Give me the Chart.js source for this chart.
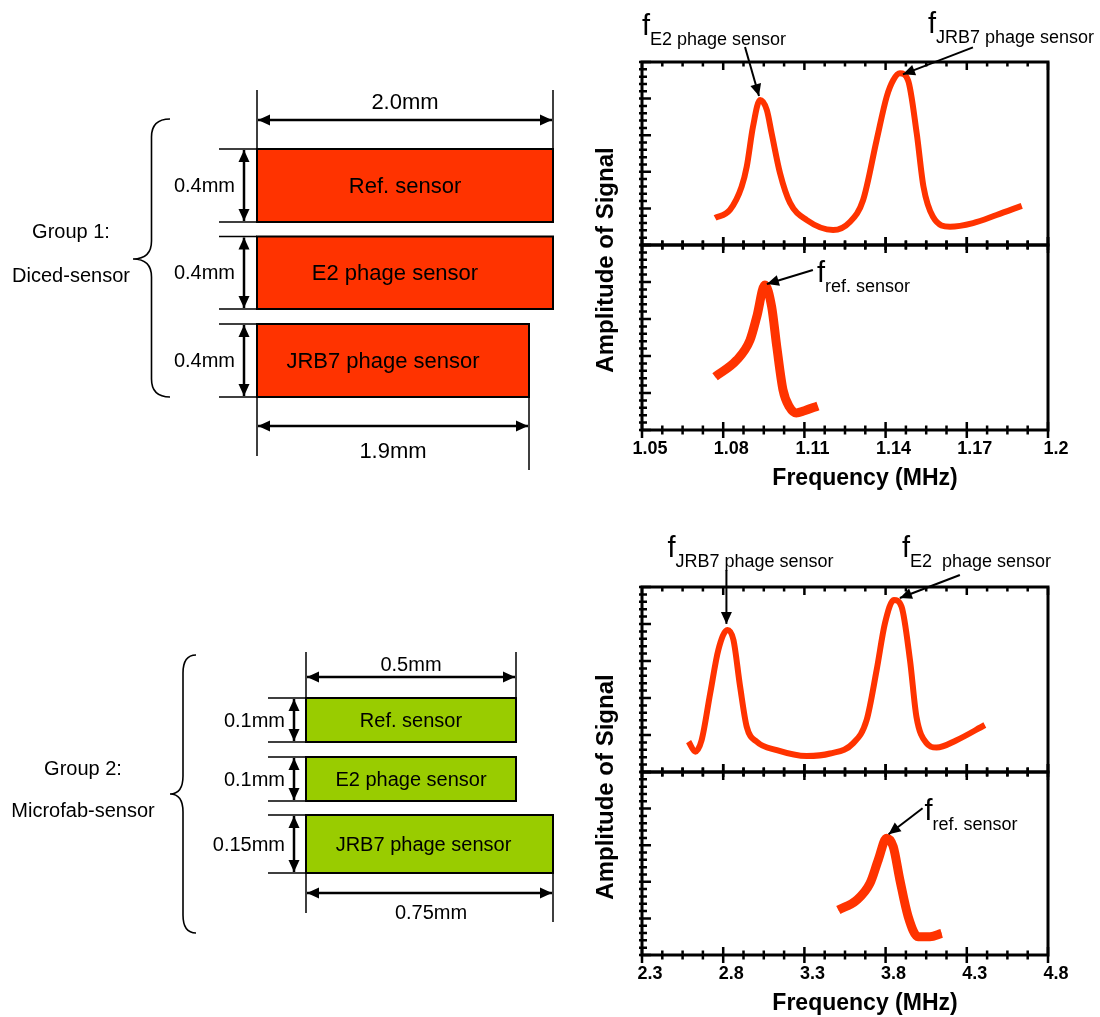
<!DOCTYPE html>
<html>
<head>
<meta charset="utf-8">
<script src="https://cdn.jsdelivr.net/npm/chart.js@4.4.1/dist/chart.umd.min.js"></script>
<style>
    body { margin: 0; background: #fff; }
    #wrap { position: relative; width: 1100px; height: 1017px; overflow: hidden; }
    canvas { position: absolute; }
</style>
</head>
<body>
<div id="wrap">
    <canvas id="diagram" width="590" height="1017" style="left:0;top:0"></canvas>
    <canvas id="dicedUpper" width="510" height="250" style="left:590px;top:0"></canvas>
    <canvas id="dicedLower" width="510" height="500" style="left:590px;top:0"></canvas>
    <canvas id="microUpper" width="510" height="277" style="left:590px;top:500px"></canvas>
    <canvas id="microLower" width="510" height="517" style="left:590px;top:500px"></canvas>
</div>
<script>
const FONT = "'Liberation Sans', Arial, sans-serif";
const RED = '#ff3300';

// Group 1 (diced sensors): E2 + JRB7 response, then reference sensor
const dicedFreq = [1.077, 1.0825, 1.0868, 1.0887, 1.091, 1.0936, 1.0961, 1.0979, 1.101, 1.1047, 1.1109, 1.1206, 1.1268, 1.1317, 1.1367, 1.1404, 1.1428, 1.1453, 1.1483, 1.1515, 1.154, 1.1575, 1.1638, 1.1723, 1.181, 1.1903];
const dicedAmp = [0.74, 0.96, 1.59, 2.14, 3.23, 3.96, 3.69, 3.05, 1.96, 1.15, 0.68, 0.41, 0.63, 1.23, 2.87, 4.05, 4.5, 4.69, 4.5, 3.05, 1.59, 0.77, 0.5, 0.6, 0.82, 1.07];
const dicedRefFreq = [1.077, 1.085, 1.0899, 1.0924, 1.0954, 1.0979, 1.0998, 1.1021, 1.1045, 1.107, 1.11, 1.115];
const dicedRefAmp = [1.44, 1.89, 2.43, 3.06, 3.92, 3.33, 2.25, 1.08, 0.62, 0.46, 0.52, 0.65];
const dicedTicks = [1.05, 1.08, 1.11, 1.14, 1.17, 1.2];
const dicedPeakNames = ['E2 phage sensor', 'JRB7 phage sensor'];

// Group 2 (microfab sensors)
const microFreq = [2.587, 2.628, 2.667, 2.72, 2.77, 2.826, 2.863, 2.904, 2.945, 3.006, 3.13, 3.314, 3.458, 3.601, 3.683, 3.745, 3.796, 3.851, 3.898, 3.95, 3.99, 4.052, 4.114, 4.237, 4.411];
const microAmp = [0.82, 0.55, 0.86, 2.13, 3.3, 3.84, 3.57, 2.31, 1.22, 0.82, 0.59, 0.43, 0.5, 0.78, 1.4, 2.76, 4.02, 4.65, 4.47, 3.03, 1.49, 0.78, 0.66, 0.86, 1.27];
const microRefFreq = [3.509, 3.622, 3.704, 3.755, 3.806, 3.847, 3.888, 3.939, 4.0, 4.073, 4.145];
const microRefAmp = [1.23, 1.5, 1.96, 2.6, 3.19, 2.96, 2.05, 1.05, 0.5, 0.5, 0.59];
const microTicks = [2.3, 2.8, 3.3, 3.8, 4.3, 4.8];
const microPeakNames = ['JRB7 phage sensor', 'E2  phage sensor'];

const refName = 'ref. sensor';
const ampTicks = [0, 1, 2, 3, 4, 5];

// sensor sketches on the left
const sensorNames = ['Ref. sensor', 'E2 phage sensor', 'JRB7 phage sensor'];
const group1Thick = ['0.4mm', '0.4mm', '0.4mm'];
const group1Widths = ['2.0mm', '1.9mm'];
const group1Title = ['Group 1:', 'Diced-sensor'];
const group2Thick = ['0.1mm', '0.1mm', '0.15mm'];
const group2Widths = ['0.5mm', '0.75mm'];
const group2Title = ['Group 2:', 'Microfab-sensor'];

function arrowHead(ctx, x1, y1, x2, y2, len, half) {
    const a = Math.atan2(y2 - y1, x2 - x1);
    ctx.beginPath();
    ctx.moveTo(x2, y2);
    ctx.lineTo(x2 - len * Math.cos(a) + half * Math.sin(a), y2 - len * Math.sin(a) - half * Math.cos(a));
    ctx.lineTo(x2 - len * Math.cos(a) - half * Math.sin(a), y2 - len * Math.sin(a) + half * Math.cos(a));
    ctx.closePath();
    ctx.fill();
}

function arrow(ctx, x1, y1, x2, y2, both) {
    ctx.beginPath();
    ctx.moveTo(x1, y1);
    ctx.lineTo(x2, y2);
    ctx.stroke();
    arrowHead(ctx, x1, y1, x2, y2, 12, 5.5);
    if (both) arrowHead(ctx, x2, y2, x1, y1, 12, 5.5);
}

function localMaxima(arr) {
    const out = [];
    for (let i = 1; i < arr.length - 1; i++) {
        if (arr[i] > arr[i - 1] && arr[i] > arr[i + 1]) out.push(i);
    }
    return out;
}

// one sub-plot (upper or lower half of a panel)
function makePlot(id, cfg) {
    const series = cfg.freq.map((f, i) => ({ x: f, y: cfg.amp[i] }));
    const datasets = [{
        data: series,
        showLine: true,
        borderColor: RED,
        borderWidth: cfg.ref ? 9 : 6,
        pointRadius: 0,
        cubicInterpolationMode: 'monotone',
        borderJoinStyle: 'round'
    }];
    if (cfg.ref) {
        // marker texture along the reference trace
        datasets.push({
            data: series,
            showLine: true,
            borderColor: 'rgba(150, 0, 0, 0.45)',
            borderWidth: 3,
            borderDash: [2, 2],
            pointRadius: 0,
            cubicInterpolationMode: 'monotone'
        });
    }

    const frame = {
        id: 'frame',
        afterDraw(chart) {
            const { ctx, chartArea: a, scales: { x, y } } = chart;
            ctx.save();
            ctx.strokeStyle = '#000';
            ctx.fillStyle = '#000';
            ctx.lineWidth = 2.5;
            ctx.beginPath();
            cfg.ticks.forEach((v, i) => {
                const marks = [{ v: v, len: 8 }];
                if (i < cfg.ticks.length - 1) {
                    const step = (cfg.ticks[i + 1] - v) / 4;
                    for (let k = 1; k < 4; k++) marks.push({ v: v + k * step, len: 4.5 });
                }
                marks.forEach(m => {
                    const px = x.getPixelForValue(m.v);
                    ctx.moveTo(px, a.top - (cfg.topInside ? 0 : m.len));
                    ctx.lineTo(px, a.top + m.len);
                    ctx.moveTo(px, a.bottom - m.len);
                    ctx.lineTo(px, a.bottom + m.len);
                });
            });
            ampTicks.forEach((v, i) => {
                const py = y.getPixelForValue(v);
                ctx.moveTo(a.left - 3, py);
                ctx.lineTo(a.left + 9, py);
                if (i < ampTicks.length - 1) {
                    for (let k = 1; k < 5; k++) {
                        const pm = y.getPixelForValue(v + k * (ampTicks[i + 1] - v) / 5);
                        ctx.moveTo(a.left - 3, pm);
                        ctx.lineTo(a.left + 5, pm);
                    }
                }
            });
            ctx.stroke();
            ctx.lineWidth = 3;
            ctx.strokeRect(a.left, a.top, a.right - a.left, a.bottom - a.top);

            // peak call-outs
            const peaks = localMaxima(cfg.amp);
            ctx.lineWidth = 2;
            cfg.notes.forEach((n, k) => {
                const px = x.getPixelForValue(cfg.freq[peaks[k]]);
                const py = y.getPixelForValue(cfg.amp[peaks[k]]);
                arrow(ctx, px + n.tail[0], py + n.tail[1], px + n.tip[0], py + n.tip[1]);
                ctx.textBaseline = 'alphabetic';
                ctx.textAlign = 'left';
                ctx.font = '29px ' + FONT;
                ctx.fillText('f', px + n.f[0], py + n.f[1]);
                ctx.font = '18px ' + FONT;
                ctx.fillText(n.text, px + n.f[0] + 8, py + n.f[1] + 10);
            });

            if (cfg.axis) {
                ctx.font = 'bold 23px ' + FONT;
                ctx.textAlign = 'center';
                ctx.textBaseline = 'middle';
                ctx.fillText('Frequency (MHz)', (a.left + a.right) / 2 + 20, a.bottom + 49);
                ctx.save();
                ctx.translate(a.left - 36, a.top + 15);
                ctx.rotate(-Math.PI / 2);
                ctx.font = 'bold 24px ' + FONT;
                ctx.fillText('Amplitude of Signal', 0, 0);
                ctx.restore();
            }
            ctx.restore();
        }
    };

    return new Chart(document.getElementById(id), {
        type: 'scatter',
        data: { datasets: datasets },
        options: {
            responsive: false,
            animation: false,
            layout: { padding: cfg.padding },
            plugins: { legend: { display: false }, tooltip: { enabled: false } },
            scales: {
                x: {
                    type: 'linear',
                    min: cfg.ticks[0],
                    max: cfg.ticks[cfg.ticks.length - 1],
                    display: cfg.axis,
                    afterBuildTicks: s => { s.ticks = cfg.ticks.map(v => ({ value: v })); },
                    afterFit: s => { if (cfg.axis) s.height = cfg.axisHeight; },
                    grid: { display: false, drawTicks: false },
                    border: { display: false },
                    ticks: {
                        color: '#000',
                        font: { family: FONT, size: 18, weight: 'bold' },
                        padding: 8,
                        labelOffset: 8,
                        maxRotation: 0,
                        autoSkip: false,
                        callback: v => String(v)
                    }
                },
                y: { min: 0, max: 5, display: false }
            }
        },
        plugins: [frame]
    });
}

// Group 1 plots
makePlot('dicedUpper', {
    freq: dicedFreq, amp: dicedAmp, ticks: dicedTicks, topInside: true, axis: false,
    padding: { left: 52, right: 52, top: 62, bottom: 5 },
    notes: [
        { text: dicedPeakNames[0], tip: [-1, -4], tail: [-15, -53], f: [-118, -65] },
        { text: dicedPeakNames[1], tip: [3, 1], tail: [73, -26], f: [28, -40] }
    ]
});
makePlot('dicedLower', {
    freq: dicedRefFreq, amp: dicedRefAmp, ref: true, ticks: dicedTicks, axis: true, axisHeight: 70,
    padding: { left: 52, right: 52, top: 245, bottom: 0 },
    notes: [{ text: refName, tip: [2, -1], tail: [48, -15], f: [52, -3] }]
});

// Group 2 plots
makePlot('microUpper', {
    freq: microFreq, amp: microAmp, ticks: microTicks, topInside: true, axis: false,
    padding: { left: 52, right: 52, top: 87, bottom: 5 },
    notes: [
        { text: microPeakNames[0], tip: [-1, -6], tail: [-1, -60], f: [-60, -73] },
        { text: microPeakNames[1], tip: [6, -2], tail: [66, -25], f: [8, -43] }
    ]
});
makePlot('microLower', {
    freq: microRefFreq, amp: microRefAmp, ref: true, ticks: microTicks, axis: true, axisHeight: 62,
    padding: { left: 52, right: 52, top: 272, bottom: 0 },
    notes: [{ text: refName, tip: [2, -4], tail: [36, -30], f: [38, -18] }]
});

// Sensor sketches, drawn on a page-sized coordinate system
function drawGroup(ctx, X, Y, g) {
    ctx.save();
    ctx.strokeStyle = '#000';
    ctx.fillStyle = '#000';

    // rectangles
    g.tops.forEach((t, i) => {
        ctx.fillStyle = g.fill;
        ctx.fillRect(X(g.left), Y(t), X(g.rights[i]) - X(g.left), Y(g.bottoms[i]) - Y(t));
        ctx.lineWidth = 2;
        ctx.strokeRect(X(g.left), Y(t), X(g.rights[i]) - X(g.left), Y(g.bottoms[i]) - Y(t));
        ctx.fillStyle = '#000';
        ctx.font = g.sensorSize + 'px ' + FONT;
        ctx.textAlign = 'center';
        ctx.textBaseline = 'middle';
        ctx.fillText(sensorNames[i], X((g.left + g.rights[i]) / 2 + g.nameShift[i]), Y((t + g.bottoms[i]) / 2 + 1));

        // thickness call-out
        ctx.lineWidth = 1.5;
        ctx.beginPath();
        ctx.moveTo(X(g.extFrom), Y(t)); ctx.lineTo(X(g.left), Y(t));
        ctx.moveTo(X(g.extFrom), Y(g.bottoms[i])); ctx.lineTo(X(g.left), Y(g.bottoms[i]));
        ctx.stroke();
        ctx.lineWidth = 2.5;
        arrow(ctx, X(g.arrowX), Y(t + 1), X(g.arrowX), Y(g.bottoms[i] - 1), true);
        ctx.font = g.thickSize + 'px ' + FONT;
        ctx.textAlign = 'right';
        ctx.fillText(g.thick[i], X(g.thickRight), Y((t + g.bottoms[i]) / 2 + 1));
    });

    // width call-outs
    const last = g.tops.length - 1;
    ctx.lineWidth = 1.5;
    ctx.beginPath();
    ctx.moveTo(X(g.left), Y(g.dimTop.ext)); ctx.lineTo(X(g.left), Y(g.tops[0]));
    ctx.moveTo(X(g.rights[0]), Y(g.dimTop.ext)); ctx.lineTo(X(g.rights[0]), Y(g.tops[0]));
    ctx.moveTo(X(g.left), Y(g.bottoms[last])); ctx.lineTo(X(g.left), Y(g.dimBot.ext[0]));
    ctx.moveTo(X(g.rights[last]), Y(g.bottoms[last])); ctx.lineTo(X(g.rights[last]), Y(g.dimBot.ext[1]));
    ctx.stroke();
    ctx.lineWidth = 2.5;
    arrow(ctx, X(g.left + 1), Y(g.dimTop.y), X(g.rights[0] - 1), Y(g.dimTop.y), true);
    arrow(ctx, X(g.left + 1), Y(g.dimBot.y), X(g.rights[last] - 1), Y(g.dimBot.y), true);
    ctx.font = g.dimSize + 'px ' + FONT;
    ctx.textAlign = 'center';
    ctx.fillText(g.widths[0], X(g.dimTop.textX), Y(g.dimTop.textY));
    ctx.fillText(g.widths[1], X(g.dimBot.textX), Y(g.dimBot.textY));

    // curly brace
    const b = g.brace, r = 18, xm = (b.xr + b.xt) / 2;
    ctx.lineWidth = 1.6;
    ctx.beginPath();
    ctx.moveTo(X(b.xr), Y(b.top));
    ctx.quadraticCurveTo(X(xm), Y(b.top), X(xm), Y(b.top + r));
    ctx.lineTo(X(xm), Y(b.tip - r));
    ctx.quadraticCurveTo(X(xm), Y(b.tip), X(b.xt), Y(b.tip));
    ctx.quadraticCurveTo(X(xm), Y(b.tip), X(xm), Y(b.tip + r));
    ctx.lineTo(X(xm), Y(b.bottom - r));
    ctx.quadraticCurveTo(X(xm), Y(b.bottom), X(b.xr), Y(b.bottom));
    ctx.stroke();

    ctx.font = '20px ' + FONT;
    ctx.fillText(g.title[0], X(g.titleX), Y(g.titleY[0]));
    ctx.fillText(g.title[1], X(g.titleX), Y(g.titleY[1]));
    ctx.restore();
}

const sketch = {
    id: 'sketch',
    afterDraw(chart) {
        const { ctx, scales: { x, y } } = chart;
        const X = v => x.getPixelForValue(v);
        const Y = v => y.getPixelForValue(v);
        drawGroup(ctx, X, Y, {
            fill: '#ff3300', left: 257, rights: [553, 553, 529],
            tops: [149, 236.5, 324], bottoms: [222, 309, 397], nameShift: [0, -10, -10],
            extFrom: 219, arrowX: 244, thickRight: 235, thick: group1Thick, widths: group1Widths,
            sensorSize: 22, thickSize: 20, dimSize: 22,
            dimTop: { y: 120, ext: 90, textX: 405, textY: 103 },
            dimBot: { y: 426, ext: [456, 470], textX: 393, textY: 452 },
            brace: { xr: 170, xt: 133, top: 119, tip: 259, bottom: 397 },
            title: group1Title, titleX: 71, titleY: [232, 276]
        });
        drawGroup(ctx, X, Y, {
            fill: '#99cc00', left: 306, rights: [516, 516, 553],
            tops: [698, 757, 815], bottoms: [742, 801, 873], nameShift: [0, 0, -6],
            extFrom: 268, arrowX: 294, thickRight: 285, thick: group2Thick, widths: group2Widths,
            sensorSize: 20, thickSize: 20, dimSize: 20,
            dimTop: { y: 677, ext: 652, textX: 411, textY: 665 },
            dimBot: { y: 893, ext: [913, 922], textX: 431, textY: 913 },
            brace: { xr: 196, xt: 170, top: 655, tip: 794, bottom: 933 },
            title: group2Title, titleX: 83, titleY: [769, 811]
        });
    }
};

new Chart(document.getElementById('diagram'), {
    type: 'scatter',
    data: { datasets: [] },
    options: {
        responsive: false,
        animation: false,
        layout: { padding: 0 },
        plugins: { legend: { display: false }, tooltip: { enabled: false } },
        scales: {
            x: { type: 'linear', min: 0, max: 590, display: false },
            y: { type: 'linear', min: 0, max: 1017, reverse: true, display: false }
        }
    },
    plugins: [sketch]
});
</script>
</body>
</html>
